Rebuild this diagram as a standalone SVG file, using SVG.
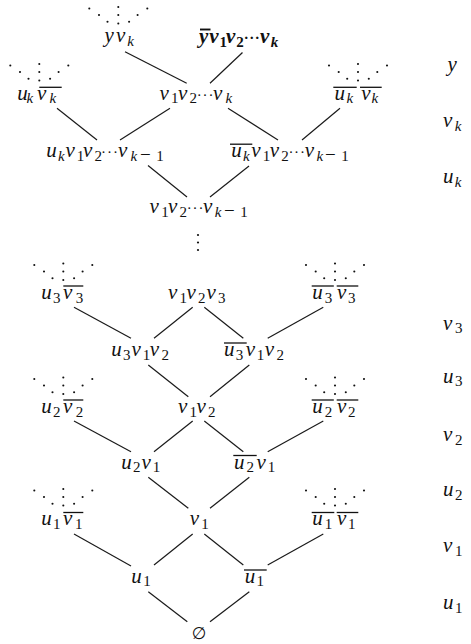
<svg xmlns="http://www.w3.org/2000/svg" width="471" height="644" viewBox="0 0 471 644">
<style>
.m{font-size:21px;fill:#111}
.s{font-size:15px;fill:#111}
.mn{font-size:19px;fill:#111}
.e{font-size:17px;fill:#111}
.ol{stroke:#111;stroke-width:1.3}
.olb{stroke:#111;stroke-width:1.9}
.edge{stroke:#1a1a1a;stroke-width:1.2}
.dot{fill:#111}
</style>
<defs>
<g id="dd">
<circle class="dot" cx="-29" cy="-6.5" r="1.05"/>
<circle class="dot" cx="-19.3" cy="0" r="1.05"/>
<circle class="dot" cx="-10.8" cy="6.7" r="1.05"/>
<circle class="dot" cx="0" cy="-8" r="1.05"/>
<circle class="dot" cx="0" cy="0" r="1.05"/>
<circle class="dot" cx="0" cy="8.5" r="1.05"/>
<circle class="dot" cx="10.8" cy="6.7" r="1.05"/>
<circle class="dot" cx="19.3" cy="0" r="1.05"/>
<circle class="dot" cx="29" cy="-6.5" r="1.05"/>
</g>
</defs>
<rect width="471" height="644" fill="#fff"/>

<g id="edges" class="edge">
<line x1="125" y1="51.7" x2="186.7" y2="83.3"/>
<line x1="242.5" y1="52.5" x2="210" y2="83.3"/>
<line x1="57" y1="108.3" x2="97" y2="140"/>
<line x1="170" y1="108.3" x2="120" y2="140"/>
<line x1="228" y1="108.3" x2="278" y2="140"/>
<line x1="340" y1="108.3" x2="302" y2="140"/>
<line x1="148" y1="165.5" x2="187" y2="197"/>
<line x1="249" y1="166" x2="210" y2="197"/>
<line x1="74" y1="307.3" x2="131" y2="338.3"/>
<line x1="192.7" y1="307.3" x2="154" y2="338.3"/>
<line x1="204.3" y1="307.3" x2="243.3" y2="338.3"/>
<line x1="323.3" y1="307.3" x2="267.7" y2="338.3"/>
<line x1="148.3" y1="365" x2="188.3" y2="396.7"/>
<line x1="249.3" y1="365" x2="210" y2="396.7"/>
<line x1="74" y1="421" x2="131" y2="451.7"/>
<line x1="192.7" y1="421" x2="154" y2="451.7"/>
<line x1="204.3" y1="421" x2="243.3" y2="451.7"/>
<line x1="323.3" y1="421" x2="267.7" y2="451.7"/>
<line x1="148.3" y1="477.3" x2="188.3" y2="508.3"/>
<line x1="249.3" y1="477.3" x2="210" y2="508.3"/>
<line x1="74" y1="534" x2="131" y2="566"/>
<line x1="192.7" y1="534" x2="154" y2="565"/>
<line x1="204.3" y1="534" x2="243.3" y2="565"/>
<line x1="323.3" y1="534" x2="267.7" y2="565"/>
<line x1="148.3" y1="591.7" x2="187.3" y2="621.7"/>
<line x1="249.3" y1="591.7" x2="210" y2="621.7"/>
</g>

<g id="n-yvk">
<use href="#dd" x="118.3" y="15"/>
<text class="m" font-family="Liberation Serif" font-style="italic" x="104.5" y="42">y</text>
<text class="m" font-family="Liberation Serif" font-style="italic" x="116" y="42">v</text>
<text class="s" font-family="Liberation Serif" font-style="italic" x="127.3" y="45.5">k</text>
</g>

<g id="n-ybar-v1vk">
<line class="olb" x1="200" y1="29.5" x2="210.5" y2="29.5"/>
<text class="m" font-family="Liberation Serif" font-style="italic" font-weight="bold" x="199" y="43">y</text>
<text class="m" font-family="Liberation Serif" font-style="italic" font-weight="bold" x="209.3" y="43">v</text>
<text class="s" font-family="Liberation Serif" font-weight="bold" x="219.5" y="46.5">1</text>
<text class="m" font-family="Liberation Serif" font-style="italic" font-weight="bold" x="226" y="43">v</text>
<text class="s" font-family="Liberation Serif" font-weight="bold" x="236.3" y="46.5">2</text>
<text class="s" font-family="Liberation Serif" font-weight="bold" x="243.8 249.3 254.8" y="43">&#xB7;&#xB7;&#xB7;</text>
<text class="m" font-family="Liberation Serif" font-style="italic" font-weight="bold" x="260" y="43">v</text>
<text class="s" font-family="Liberation Serif" font-style="italic" font-weight="bold" x="270.8" y="46.5">k</text>
</g>

<g id="n-uk-vkbar">
<use href="#dd" x="39.3" y="72"/>
<line class="ol" x1="39.3" y1="87.3" x2="61.7" y2="87.3"/>
<text class="m" font-family="Liberation Serif" font-style="italic" x="17.2" y="99.5">u</text>
<text class="s" font-family="Liberation Serif" font-style="italic" x="26.5" y="103">k</text>
<text class="m" font-family="Liberation Serif" font-style="italic" x="37" y="99.5">v</text>
<text class="s" font-family="Liberation Serif" font-style="italic" x="49.5" y="103">k</text>
</g>

<g id="n-v1v2vk">
<text class="m" font-family="Liberation Serif" font-style="italic" x="159.6" y="99.5">v</text>
<text class="s" font-family="Liberation Serif" x="171" y="103">1</text>
<text class="m" font-family="Liberation Serif" font-style="italic" x="178" y="99.5">v</text>
<text class="s" font-family="Liberation Serif" x="189.6" y="103">2</text>
<text class="s" font-family="Liberation Serif" x="196.8 202.6 208.4" y="99.5">&#xB7;&#xB7;&#xB7;</text>
<text class="m" font-family="Liberation Serif" font-style="italic" x="213" y="99.5">v</text>
<text class="s" font-family="Liberation Serif" font-style="italic" x="225.6" y="103">k</text>
</g>

<g id="n-ukbar-vkbar">
<use href="#dd" x="358" y="72"/>
<line class="ol" x1="333.3" y1="87.3" x2="356.7" y2="87.3"/>
<line class="ol" x1="360" y1="87.3" x2="381.7" y2="87.3"/>
<text class="m" font-family="Liberation Serif" font-style="italic" x="334.6" y="99.5">u</text>
<text class="s" font-family="Liberation Serif" font-style="italic" x="346.5" y="103">k</text>
<text class="m" font-family="Liberation Serif" font-style="italic" x="361.2" y="99.5">v</text>
<text class="s" font-family="Liberation Serif" font-style="italic" x="371.5" y="103">k</text>
</g>

<g id="n-uk-v1vk1">
<text class="m" font-family="Liberation Serif" font-style="italic" x="46.3" y="157">u</text>
<text class="s" font-family="Liberation Serif" font-style="italic" x="58" y="160.5">k</text>
<text class="m" font-family="Liberation Serif" font-style="italic" x="65.6" y="157">v</text>
<text class="s" font-family="Liberation Serif" x="76.8" y="160.5">1</text>
<text class="m" font-family="Liberation Serif" font-style="italic" x="83" y="157">v</text>
<text class="s" font-family="Liberation Serif" x="94.6" y="160.5">2</text>
<text class="s" font-family="Liberation Serif" x="101.1 107.1 113.1" y="157">&#xB7;&#xB7;&#xB7;</text>
<text class="m" font-family="Liberation Serif" font-style="italic" x="118" y="157">v</text>
<text class="s" font-family="Liberation Serif" font-style="italic" x="130.4" y="160.5">k</text>
<text class="mn" font-family="Liberation Serif" x="140" y="161">&#x2212;</text>
<text class="s" font-family="Liberation Serif" x="156.3" y="160.5">1</text>
</g>

<g id="n-ukbar-v1vk1">
<line class="ol" x1="230" y1="144.2" x2="252.3" y2="144.2"/>
<text class="m" font-family="Liberation Serif" font-style="italic" x="231.3" y="157">u</text>
<text class="s" font-family="Liberation Serif" font-style="italic" x="243" y="160.5">k</text>
<text class="m" font-family="Liberation Serif" font-style="italic" x="251.3" y="157">v</text>
<text class="s" font-family="Liberation Serif" x="262.8" y="160.5">1</text>
<text class="m" font-family="Liberation Serif" font-style="italic" x="269.7" y="157">v</text>
<text class="s" font-family="Liberation Serif" x="281.3" y="160.5">2</text>
<text class="s" font-family="Liberation Serif" x="288.6 294.1 299.9" y="157">&#xB7;&#xB7;&#xB7;</text>
<text class="m" font-family="Liberation Serif" font-style="italic" x="304.7" y="157">v</text>
<text class="s" font-family="Liberation Serif" font-style="italic" x="316.4" y="160.5">k</text>
<text class="mn" font-family="Liberation Serif" x="325" y="161">&#x2212;</text>
<text class="s" font-family="Liberation Serif" x="341.3" y="160.5">1</text>
</g>

<g id="n-v1vk1">
<text class="m" font-family="Liberation Serif" font-style="italic" x="149.6" y="213">v</text>
<text class="s" font-family="Liberation Serif" x="161.2" y="216.5">1</text>
<text class="m" font-family="Liberation Serif" font-style="italic" x="168" y="213">v</text>
<text class="s" font-family="Liberation Serif" x="179.6" y="216.5">2</text>
<text class="s" font-family="Liberation Serif" x="186.8 192.6 198.4" y="213">&#xB7;&#xB7;&#xB7;</text>
<text class="m" font-family="Liberation Serif" font-style="italic" x="203" y="213">v</text>
<text class="s" font-family="Liberation Serif" font-style="italic" x="214.7" y="216.5">k</text>
<text class="mn" font-family="Liberation Serif" x="224" y="217">&#x2212;</text>
<text class="s" font-family="Liberation Serif" x="240.3" y="216.5">1</text>
</g>

<g id="vdots">
<circle class="dot" cx="198" cy="235" r="1.1"/>
<circle class="dot" cx="198" cy="242.5" r="1.1"/>
<circle class="dot" cx="198" cy="250" r="1.1"/>
</g>

<g id="n-u3-v3bar">
<use href="#dd" x="63.3" y="271.5"/>
<line class="ol" x1="63.3" y1="286" x2="83.3" y2="286"/>
<text class="m" font-family="Liberation Serif" font-style="italic" x="41.3" y="299">u</text>
<text class="s" font-family="Liberation Serif" x="53" y="302.5">3</text>
<text class="m" font-family="Liberation Serif" font-style="italic" x="63" y="299">v</text>
<text class="s" font-family="Liberation Serif" x="75.7" y="302.5">3</text>
</g>

<g id="n-v1v2v3">
<text class="m" font-family="Liberation Serif" font-style="italic" x="168" y="299">v</text>
<text class="s" font-family="Liberation Serif" x="179.6" y="302.5">1</text>
<text class="m" font-family="Liberation Serif" font-style="italic" x="186.4" y="299">v</text>
<text class="s" font-family="Liberation Serif" x="198" y="302.5">2</text>
<text class="m" font-family="Liberation Serif" font-style="italic" x="206.4" y="299">v</text>
<text class="s" font-family="Liberation Serif" x="218" y="302.5">3</text>
</g>

<g id="n-u3bar-v3bar">
<use href="#dd" x="335" y="271.5"/>
<line class="ol" x1="311.7" y1="286" x2="333.8" y2="286"/>
<line class="ol" x1="336.7" y1="286" x2="358.3" y2="286"/>
<text class="m" font-family="Liberation Serif" font-style="italic" x="312.3" y="299">u</text>
<text class="s" font-family="Liberation Serif" x="324.8" y="302.5">3</text>
<text class="m" font-family="Liberation Serif" font-style="italic" x="337" y="299">v</text>
<text class="s" font-family="Liberation Serif" x="348" y="302.5">3</text>
</g>

<g id="n-u3v1v2">
<text class="m" font-family="Liberation Serif" font-style="italic" x="111.3" y="356">u</text>
<text class="s" font-family="Liberation Serif" x="123" y="359.5">3</text>
<text class="m" font-family="Liberation Serif" font-style="italic" x="131.4" y="356">v</text>
<text class="s" font-family="Liberation Serif" x="142.8" y="359.5">1</text>
<text class="m" font-family="Liberation Serif" font-style="italic" x="149.7" y="356">v</text>
<text class="s" font-family="Liberation Serif" x="161.4" y="359.5">2</text>
</g>

<g id="n-u3bar-v1v2">
<line class="ol" x1="224" y1="343" x2="246.7" y2="343"/>
<text class="m" font-family="Liberation Serif" font-style="italic" x="224" y="356">u</text>
<text class="s" font-family="Liberation Serif" x="235.8" y="359.5">3</text>
<text class="m" font-family="Liberation Serif" font-style="italic" x="245.7" y="356">v</text>
<text class="s" font-family="Liberation Serif" x="256.8" y="359.5">1</text>
<text class="m" font-family="Liberation Serif" font-style="italic" x="264.7" y="356">v</text>
<text class="s" font-family="Liberation Serif" x="276.4" y="359.5">2</text>
</g>

<g id="n-u2-v2bar">
<use href="#dd" x="63.3" y="385.5"/>
<line class="ol" x1="63.3" y1="400" x2="83.3" y2="400"/>
<text class="m" font-family="Liberation Serif" font-style="italic" x="41.3" y="413">u</text>
<text class="s" font-family="Liberation Serif" x="53" y="416.5">2</text>
<text class="m" font-family="Liberation Serif" font-style="italic" x="63" y="413">v</text>
<text class="s" font-family="Liberation Serif" x="75.7" y="416.5">2</text>
</g>

<g id="n-v1v2">
<text class="m" font-family="Liberation Serif" font-style="italic" x="178" y="413">v</text>
<text class="s" font-family="Liberation Serif" x="189.5" y="416.5">1</text>
<text class="m" font-family="Liberation Serif" font-style="italic" x="196.4" y="413">v</text>
<text class="s" font-family="Liberation Serif" x="208" y="416.5">2</text>
</g>

<g id="n-u2bar-v2bar">
<use href="#dd" x="335" y="385.5"/>
<line class="ol" x1="311.7" y1="400" x2="333.8" y2="400"/>
<line class="ol" x1="336.7" y1="400" x2="358.3" y2="400"/>
<text class="m" font-family="Liberation Serif" font-style="italic" x="312.3" y="413">u</text>
<text class="s" font-family="Liberation Serif" x="324.8" y="416.5">2</text>
<text class="m" font-family="Liberation Serif" font-style="italic" x="337" y="413">v</text>
<text class="s" font-family="Liberation Serif" x="348" y="416.5">2</text>
</g>

<g id="n-u2v1">
<text class="m" font-family="Liberation Serif" font-style="italic" x="121.3" y="468.5">u</text>
<text class="s" font-family="Liberation Serif" x="133" y="472">2</text>
<text class="m" font-family="Liberation Serif" font-style="italic" x="141.4" y="468.5">v</text>
<text class="s" font-family="Liberation Serif" x="152.8" y="472">1</text>
</g>

<g id="n-u2bar-v1">
<line class="ol" x1="233.3" y1="455.5" x2="256.7" y2="455.5"/>
<text class="m" font-family="Liberation Serif" font-style="italic" x="234" y="468.5">u</text>
<text class="s" font-family="Liberation Serif" x="246.4" y="472">2</text>
<text class="m" font-family="Liberation Serif" font-style="italic" x="256.4" y="468.5">v</text>
<text class="s" font-family="Liberation Serif" x="267.8" y="472">1</text>
</g>

<g id="n-u1-v1bar">
<use href="#dd" x="63.3" y="497"/>
<line class="ol" x1="63.3" y1="512.5" x2="83.3" y2="512.5"/>
<text class="m" font-family="Liberation Serif" font-style="italic" x="41.3" y="525">u</text>
<text class="s" font-family="Liberation Serif" x="53" y="528.5">1</text>
<text class="m" font-family="Liberation Serif" font-style="italic" x="63" y="525">v</text>
<text class="s" font-family="Liberation Serif" x="75" y="528.5">1</text>
</g>

<g id="n-v1">
<text class="m" font-family="Liberation Serif" font-style="italic" x="189.7" y="525">v</text>
<text class="s" font-family="Liberation Serif" x="201.2" y="528.5">1</text>
</g>

<g id="n-u1bar-v1bar">
<use href="#dd" x="335" y="497"/>
<line class="ol" x1="311.7" y1="512.5" x2="334.3" y2="512.5"/>
<line class="ol" x1="336.7" y1="512.5" x2="358.3" y2="512.5"/>
<text class="m" font-family="Liberation Serif" font-style="italic" x="312.3" y="525">u</text>
<text class="s" font-family="Liberation Serif" x="324.8" y="528.5">1</text>
<text class="m" font-family="Liberation Serif" font-style="italic" x="337" y="525">v</text>
<text class="s" font-family="Liberation Serif" x="348" y="528.5">1</text>
</g>

<g id="n-u1">
<text class="m" font-family="Liberation Serif" font-style="italic" x="131.3" y="582.5">u</text>
<text class="s" font-family="Liberation Serif" x="143.2" y="586">1</text>
</g>

<g id="n-u1bar">
<line class="ol" x1="244" y1="570" x2="266.7" y2="570"/>
<text class="m" font-family="Liberation Serif" font-style="italic" x="244.7" y="582.5">u</text>
<text class="s" font-family="Liberation Serif" x="256.6" y="586">1</text>
</g>

<g id="n-empty">
<text class="e" font-family="DejaVu Sans" x="199.2" y="639" text-anchor="middle">&#x2205;</text>
</g>

<g id="labels">
<text class="m" font-family="Liberation Serif" font-style="italic" x="447.5" y="70.5">y</text>
<text class="m" font-family="Liberation Serif" font-style="italic" x="443" y="127">v</text>
<text class="s" font-family="Liberation Serif" font-style="italic" x="454.8" y="130.5">k</text>
<text class="m" font-family="Liberation Serif" font-style="italic" x="443" y="183">u</text>
<text class="s" font-family="Liberation Serif" font-style="italic" x="454.8" y="186.5">k</text>
<text class="m" font-family="Liberation Serif" font-style="italic" x="443" y="329.5">v</text>
<text class="s" font-family="Liberation Serif" x="455" y="333">3</text>
<text class="m" font-family="Liberation Serif" font-style="italic" x="443" y="382.5">u</text>
<text class="s" font-family="Liberation Serif" x="455" y="386">3</text>
<text class="m" font-family="Liberation Serif" font-style="italic" x="443" y="441">v</text>
<text class="s" font-family="Liberation Serif" x="455" y="444.5">2</text>
<text class="m" font-family="Liberation Serif" font-style="italic" x="443" y="496">u</text>
<text class="s" font-family="Liberation Serif" x="455" y="499.5">2</text>
<text class="m" font-family="Liberation Serif" font-style="italic" x="443" y="552">v</text>
<text class="s" font-family="Liberation Serif" x="455" y="555.5">1</text>
<text class="m" font-family="Liberation Serif" font-style="italic" x="443" y="609">u</text>
<text class="s" font-family="Liberation Serif" x="455" y="612.5">1</text>
</g>
</svg>
